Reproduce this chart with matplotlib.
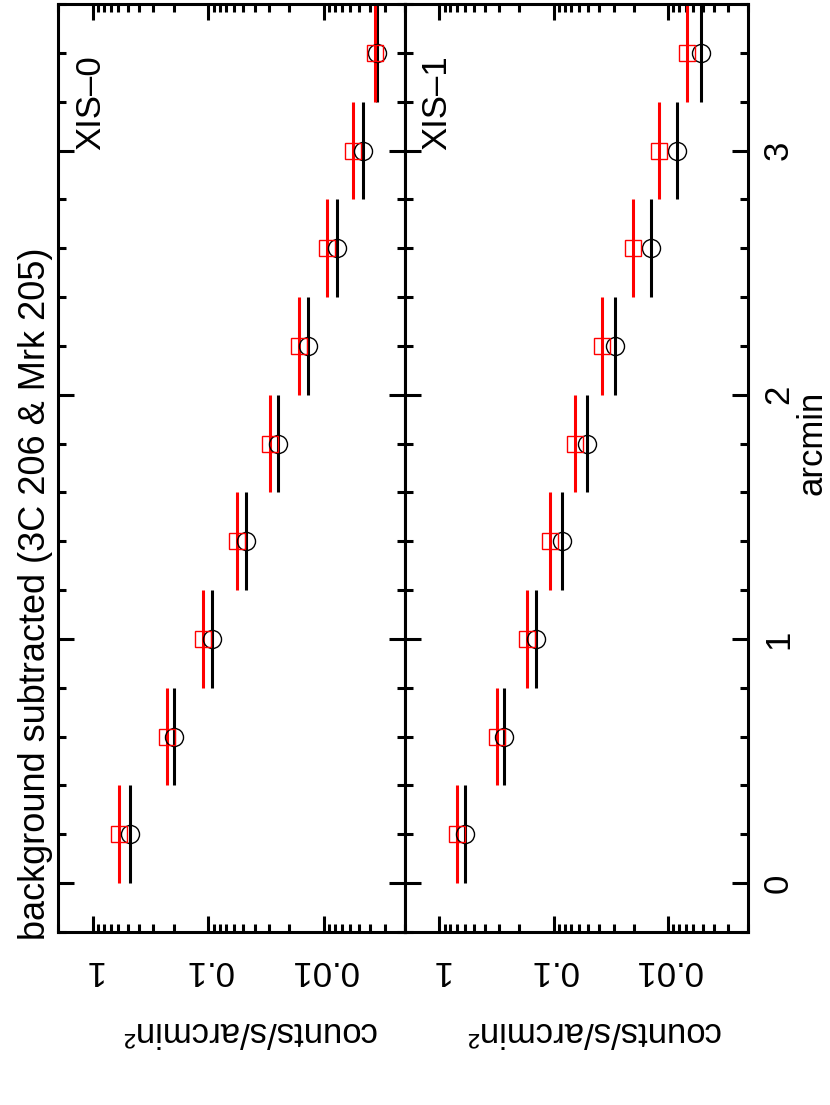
import matplotlib
matplotlib.use('Agg')
import matplotlib.pyplot as plt
from matplotlib.ticker import LogLocator, NullFormatter, MultipleLocator

plt.rcParams['font.family'] = ['Liberation Sans', 'DejaVu Sans']

# radial bins (arcmin) and half width of each bin
arcmin = [0.2, 0.6, 1.0, 1.4, 1.8, 2.2, 2.6, 3.0, 3.4]
half_bin = 0.2

# surface brightness, counts/s/arcmin^2 (black circles / red squares)
xis0_black = [0.473, 0.198, 0.0934, 0.047, 0.0253, 0.0138, 0.00776, 0.00461, 0.00348]
xis0_red = [0.594, 0.229, 0.112, 0.0563, 0.0291, 0.0165, 0.00947, 0.00563, 0.00367]
xis1_black = [0.598, 0.272, 0.144, 0.0852, 0.0509, 0.0289, 0.01423, 0.00828, 0.0052]
xis1_red = [0.702, 0.313, 0.170, 0.1075, 0.0648, 0.0379, 0.0203, 0.0119, 0.00684]

count_ticks = [1, 0.1, 0.01]
count_labels = ['1', '0.1', '0.01']
arcmin_ticks = [0, 1, 2, 3]
arcmin_labels = ['0', '1', '2', '3']

W, H = 830, 1105
fig = plt.figure(figsize=(W / 100, H / 100), dpi=100)


def px_box(x0, x1, ytop, ybot):
    return [x0 / W, 1 - ybot / H, (x1 - x0) / W, (ybot - ytop) / H]


ax0 = fig.add_axes(px_box(58, 405, 4, 932))
ax1 = fig.add_axes(px_box(405, 748, 4, 932))

panels = [(ax0, xis0_black, xis0_red, 'XIS\u20130'),
          (ax1, xis1_black, xis1_red, 'XIS\u20131')]

for ax, black, red, name in panels:
    ax.set_xscale('log')
    ax.set_xlim(2, 0.002)
    ax.set_ylim(-0.2, 3.6)

    ax.errorbar(black, arcmin, yerr=half_bin, fmt='o', ms=13, mfc='none',
                mec='black', mew=1.0, ecolor='black', elinewidth=2.2, capsize=0)
    ax.errorbar(red, arcmin, yerr=half_bin, fmt='s', ms=12, mfc='none',
                mec='#ff0000', mew=1.0, ecolor='#ff0000', elinewidth=2.2, capsize=0)

    for sp in ax.spines.values():
        sp.set_linewidth(2.2)

    ax.set_xticks(count_ticks)
    ax.set_xticklabels(count_labels, rotation=180, fontsize=25)
    ax.xaxis.set_minor_locator(LogLocator(base=10, subs=range(2, 10)))
    ax.xaxis.set_minor_formatter(NullFormatter())
    ax.set_yticks(arcmin_ticks)
    ax.yaxis.set_minor_locator(MultipleLocator(0.2))

    ax.tick_params(which='both', direction='in', top=True, right=True, width=2.2)
    ax.tick_params(which='major', length=11.5)
    ax.tick_params(which='minor', length=6)
    ax.tick_params(axis='x', pad=16)

    ax.text(0.093, 0.843, name, transform=ax.transAxes, rotation=90,
            ha='center', va='bottom', fontsize=25)

ax0.tick_params(axis='y', labelleft=False)
ax1.tick_params(axis='y', labelleft=False, labelright=True, pad=10)
ax1.set_yticklabels(arcmin_labels, rotation=90, va='center', fontsize=25)

fig.text(248 / W, 1 - 1032 / H, 'counts/s/arcmin\u00b2', rotation=180,
         ha='center', va='center', fontsize=25)
fig.text(592 / W, 1 - 1032 / H, 'counts/s/arcmin\u00b2', rotation=180,
         ha='center', va='center', fontsize=25)
fig.text(812 / W, 1 - 443 / H, 'arcmin', rotation=90,
         ha='center', va='center', fontsize=25)
fig.text(18 / W, 1 - 940 / H, 'background subtracted (3C 206 & Mrk 205)',
         rotation=90, ha='left', va='bottom', fontsize=26)

fig.savefig('out.png', dpi=100)
